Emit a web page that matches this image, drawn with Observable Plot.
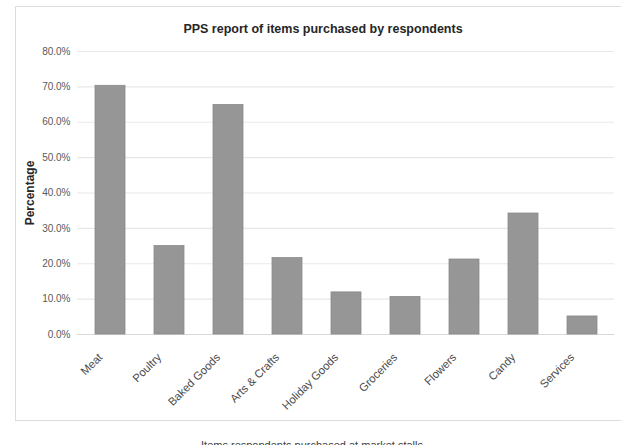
<!DOCTYPE html>
<html>
<head>
<meta charset="utf-8">
<script src="https://cdn.jsdelivr.net/npm/d3@7"></script>
<script src="https://cdn.jsdelivr.net/npm/@observablehq/plot@0.6"></script>
<style>
  html, body { margin: 0; padding: 0; background: #fff; }
  #wrap { position: relative; width: 621px; height: 445px; overflow: hidden; font-family: "Liberation Sans", Arial, sans-serif; }
  #frame { position: absolute; left: 15px; top: 6px; width: 640px; height: 415px; border: 1px solid #dcdcdc; box-sizing: border-box; }
  #title { position: absolute; left: 0; width: 646px; top: 22px; text-align: center; font-size: 12.5px; font-weight: bold; color: #262626; }
  #chart { position: absolute; left: 0; top: 40px; }
  #caption { position: absolute; left: 0; width: 624px; top: 439px; text-align: center; font-size: 11px; color: #404040; }
</style>
</head>
<body>
<div id="wrap">
  <div id="frame"></div>
  <div id="title">PPS report of items purchased by respondents</div>
  <div id="chart"></div>
  <div id="caption">Items respondents purchased at market stalls</div>
</div>
<script>
const categories = ["Meat", "Poultry", "Baked Goods", "Arts & Crafts", "Holiday Goods", "Groceries", "Flowers", "Candy", "Services"];
const percentages = [70.3, 25.0, 64.9, 21.6, 11.9, 10.6, 21.2, 34.2, 5.1];
const yTicks = [0, 10, 20, 30, 40, 50, 60, 70, 80];
const yLabel = "Percentage";

const data = categories.map((c, i) => ({category: c, value: percentages[i]}));

const chart = Plot.plot({
  width: 621,
  height: 380,
  marginTop: 11,
  marginBottom: 86,
  marginLeft: 77,
  marginRight: 7,
  style: {fontFamily: "Liberation Sans, Arial, sans-serif", fontSize: "10px", color: "#595959", background: "transparent"},
  x: {domain: categories, range: [79.6, 613], paddingInner: 0.49, paddingOuter: 0.25},
  y: {domain: [0, 80]},
  marks: [
    Plot.gridY(yTicks, {stroke: "#e8e8e8", strokeOpacity: 1, strokeWidth: 1.2}),
    Plot.ruleY([0], {stroke: "#d9d9d9", strokeWidth: 1.2}),
    Plot.barY(data, {x: "category", y: "value", fill: "#969696", stroke: "#8a8a8a", strokeWidth: 0.8}),
    Plot.axisY(yTicks, {tickSize: 0, tickPadding: 7, tickFormat: d => d.toFixed(1) + "%", label: null, fill: "#595959", fontSize: 10}),
    Plot.axisX({tickSize: 0, tickRotate: -45, tickPadding: 21, dx: -10, label: null, fill: "#4a4a4a", fontSize: 11.3}),
    Plot.text([yLabel], {frameAnchor: "left", textAnchor: "middle", dx: -47, rotate: -90, fontWeight: "bold", fontSize: 12, fill: "#262626"})
  ]
});
document.getElementById("chart").appendChild(chart);
</script>
</body>
</html>
